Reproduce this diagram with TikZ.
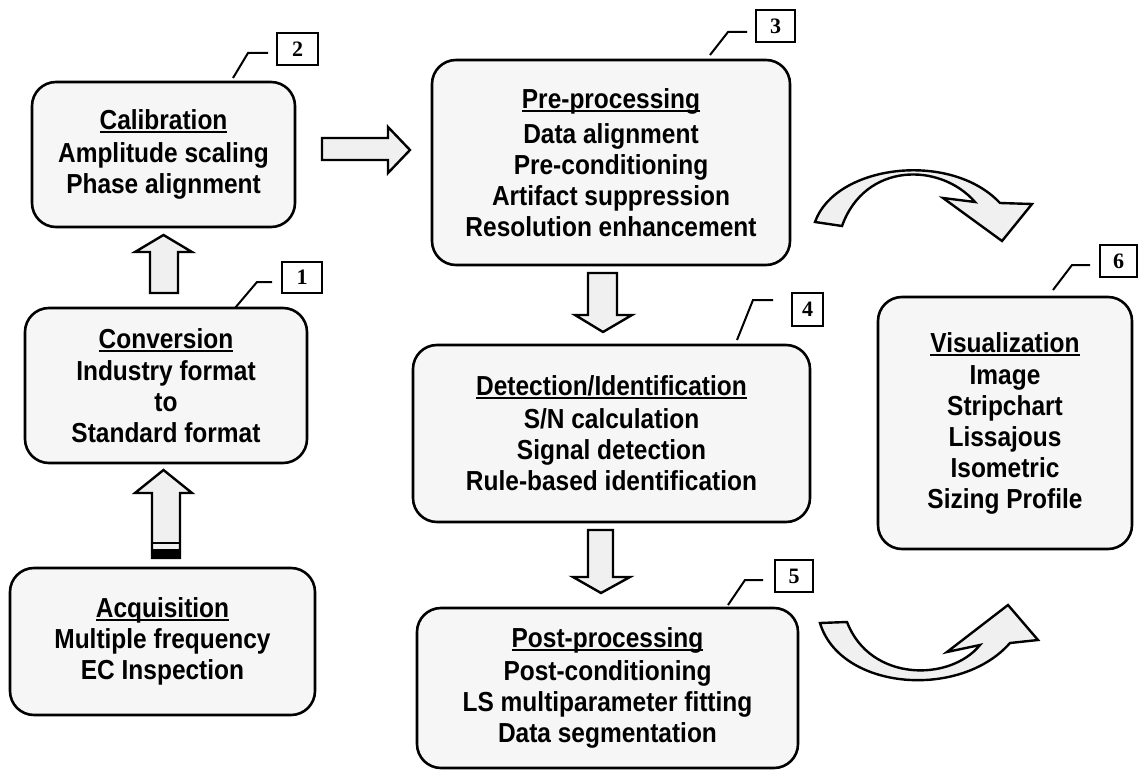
\documentclass[tikz,border=0pt]{standalone}
\usepackage{fontspec}
\setmainfont{Liberation Sans}[FakeStretch=0.89]
\newfontfamily\numfont{Liberation Serif}
\newcommand\ttlline[1]{\setbox0\hbox{#1}\rlap{\rule[-3.6pt]{\wd0}{2pt}}\box0}
\tikzset{
 procbox/.style={draw, line width=2.6pt, rounded corners=24pt, fill=gray!7, align=center,
   font=\fontsize{27.5}{31}\selectfont\bfseries, inner sep=0pt},
 numbox/.style={draw, line width=1.8pt, inner sep=0pt, fill=white,
   font=\numfont\bfseries\fontsize{22}{22}\selectfont},
 leader/.style={line width=2pt},
 blockarrow/.style={draw, line width=2.4pt, fill=gray!12, line join=miter},
}
\begin{document}
\begin{tikzpicture}[x=1pt,y=-1pt]
\useasboundingbox (0,0) rectangle (1138,770);
\fill[white] (0,0) rectangle (1138,770);

% process boxes
\node[procbox, minimum width=263, minimum height=145] (calib) at (163.5,154.5)
  {\ttlline{Calibration}\\[2pt] Amplitude scaling\\ Phase alignment};
\node[procbox, minimum width=282, minimum height=155] (conv) at (166,385.5)
  {\ttlline{Conversion}\\[1pt] Industry format\\ to\\ Standard format};
\node[procbox, minimum width=305, minimum height=147] (acq) at (162.5,641.5)
  {\ttlline{Acquisition}\\[0pt] Multiple frequency\\ EC Inspection};
\node[procbox, minimum width=358, minimum height=205] (pre) at (611,162.5)
  {\ttlline{Pre-processing}\\[4pt] Data alignment\\ Pre-conditioning\\ Artifact suppression\\ Resolution enhancement};
\node[procbox, minimum width=397, minimum height=177] (det) at (611.5,433.5)
  {\ttlline{Detection/Identification}\\[2pt] S/N calculation\\ Signal detection\\ Rule-based identification};
\node[procbox, minimum width=381, minimum height=160] (post) at (607.5,688)
  {\ttlline{Post-processing}\\[2pt] Post-conditioning\\ LS multiparameter fitting\\ Data segmentation};
\node[procbox, minimum width=254, minimum height=252] (vis) at (1005,423)
  {\ttlline{Visualization}\\[1pt] Image\\ Stripchart\\ Lissajous\\ Isometric\\ Sizing Profile};

% number labels
\node[numbox, minimum width=40, minimum height=31] (n1) at (302,277.5) {1};
\node[numbox, minimum width=41, minimum height=32] (n2) at (297.5,49) {2};
\node[numbox, minimum width=39, minimum height=32] (n3) at (775.5,26) {3};
\node[numbox, minimum width=31, minimum height=33] (n4) at (807.5,309.5) {4};
\node[numbox, minimum width=38, minimum height=32] (n5) at (794,576) {5};
\node[numbox, minimum width=37, minimum height=32] (n6) at (1118.5,261) {6};

% leader lines
\coordinate (l1) at (235,308); \coordinate (e1) at (272,282);
\draw[leader] (l1) -- (257,282) -- (e1);
\coordinate (l2) at (233,78); \coordinate (e2) at (268,53);
\draw[leader] (l2) -- (248,53) -- (e2);
\coordinate (l3) at (710,55); \coordinate (e3) at (747,32);
\draw[leader] (l3) -- (728,32) -- (e3);
\coordinate (l4) at (737,340); \coordinate (e4) at (773,300);
\draw[leader] (l4) -- (753,300) -- (e4);
\coordinate (l5) at (728,605); \coordinate (e5) at (763,580);
\draw[leader] (l5) -- (745,580) -- (e5);
\coordinate (l6) at (1053,290); \coordinate (e6) at (1090,265);
\draw[leader] (l6) -- (1072,265) -- (e6);

% block arrows
% acquisition -> conversion
\draw[blockarrow] (152,558) -- (152,493) -- (135,493) -- (163.5,470) -- (192,493) -- (180,493) -- (180,558) -- cycle;
\fill[black] (152,549) rectangle (180,558);
\draw[line width=1.6pt] (152,543) -- (180,543);
% conversion -> calibration
\draw[blockarrow] (150,293) -- (150,252) -- (135,252) -- (163.5,235) -- (192,252) -- (178,252) -- (178,293) -- cycle;
% calibration -> pre-processing
\draw[blockarrow] (322,138) -- (388,138) -- (388,127) -- (410,150) -- (388,173) -- (388,160) -- (322,160) -- cycle;
% pre-processing -> detection
\draw[blockarrow] (588,273) -- (617,273) -- (617,315) -- (632,315) -- (603,332) -- (575,315) -- (588,315) -- cycle;
% detection -> post-processing
\draw[blockarrow] (588,530) -- (613,530) -- (613,577) -- (630,577) -- (601,593) -- (573,577) -- (588,577) -- cycle;

% curved arrows to visualization
\draw[blockarrow] (815,222) .. controls (835,165) and (950,150) .. (1000,203)
  -- (1032,204) -- (1002,241) -- (943,198) -- (975,202)
  .. controls (940,162) and (865,162) .. (842,226) -- cycle;
\draw[blockarrow] (820,623) .. controls (840,690) and (960,700) .. (1010,643)
  -- (1038,640) -- (1008,605) -- (947,652) -- (980,645)
  .. controls (950,682) and (870,682) .. (847,622) -- cycle;
\end{tikzpicture}
\end{document}
